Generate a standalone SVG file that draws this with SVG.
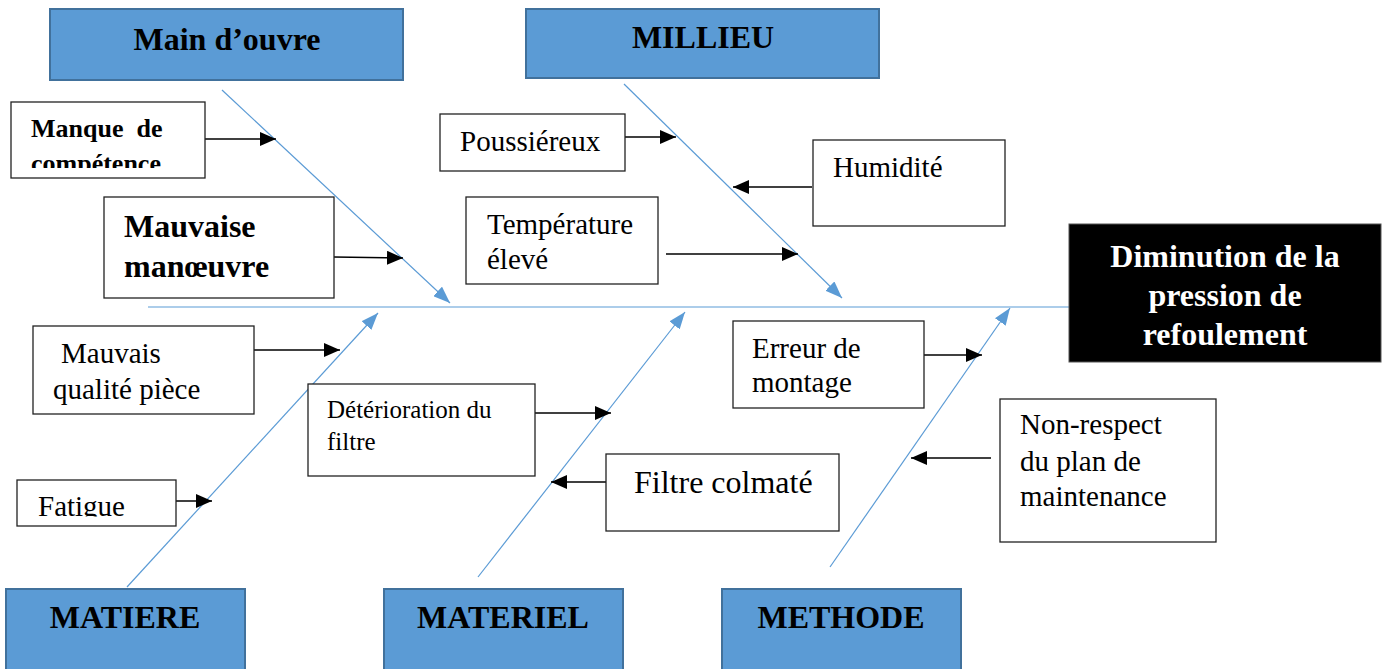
<svg xmlns="http://www.w3.org/2000/svg" width="1386" height="669" viewBox="0 0 1386 669" font-family="'Liberation Serif', 'Times New Roman', serif">
  <style>
    text { font-family: "Liberation Serif", "Times New Roman", serif; fill: #000; }
    .cat rect { fill: #5B9BD5; stroke: #41719C; stroke-width: 2; }
    .cat text { font-weight: bold; font-size: 32px; text-anchor: middle; }
    .cause rect { fill: #fff; stroke: #222; stroke-width: 1.3; }
    .cause text { font-size: 29px; }
    .cause text.b { font-weight: bold; }
    .cause text.s25 { font-size: 25px; }
    .cause text.s26 { font-size: 26px; }
    .cause text.s32 { font-size: 32px; }
    .effect rect { fill: #000; stroke: #555; stroke-width: 1; }
    .effect text { font-weight: bold; font-size: 32px; fill: #fff; text-anchor: middle; }
    .bone { stroke: #5B9BD5; stroke-width: 1.2; fill: none; }
    .link { stroke: #000; stroke-width: 1.3; fill: none; }
  </style>
  <defs>
    <marker id="blueHead" markerUnits="userSpaceOnUse" markerWidth="17" markerHeight="13" refX="17" refY="6.5" orient="auto">
      <path d="M0,0 L17,6.5 L0,13 z" fill="#5B9BD5"/>
    </marker>
    <marker id="blackHead" markerUnits="userSpaceOnUse" markerWidth="16" markerHeight="14" refX="16" refY="7" orient="auto">
      <path d="M0,0 L16,7 L0,14 z" fill="#000"/>
    </marker>
    <clipPath id="clipManque"><rect x="11" y="102" width="194" height="66"/></clipPath>
    <clipPath id="clipFatigue"><rect x="17" y="480" width="159" height="36.5"/></clipPath>
  </defs>

  <!-- fish bones and cause links -->
  <g id="connectors">
    <line class="bone" x1="148" y1="307" x2="1069" y2="307"/>
    <line class="bone" x1="222" y1="90" x2="450" y2="303" marker-end="url(#blueHead)"/>
    <line class="bone" x1="624" y1="84" x2="842" y2="298" marker-end="url(#blueHead)"/>
    <line class="bone" x1="127" y1="587" x2="378" y2="313" marker-end="url(#blueHead)"/>
    <line class="bone" x1="478" y1="577" x2="685" y2="312" marker-end="url(#blueHead)"/>
    <line class="bone" x1="830" y1="567" x2="1010" y2="308" marker-end="url(#blueHead)"/>

    <line class="link" x1="205" y1="139" x2="276" y2="139" marker-end="url(#blackHead)"/>
    <line class="link" x1="334" y1="257" x2="403" y2="258" marker-end="url(#blackHead)"/>
    <line class="link" x1="624" y1="137" x2="676" y2="137" marker-end="url(#blackHead)"/>
    <line class="link" x1="812" y1="187" x2="733" y2="187" marker-end="url(#blackHead)"/>
    <line class="link" x1="666" y1="254" x2="798" y2="254" marker-end="url(#blackHead)"/>
    <line class="link" x1="254" y1="350" x2="340" y2="350" marker-end="url(#blackHead)"/>
    <line class="link" x1="176" y1="501" x2="212" y2="501" marker-end="url(#blackHead)"/>
    <line class="link" x1="535" y1="413" x2="611" y2="413" marker-end="url(#blackHead)"/>
    <line class="link" x1="606" y1="482" x2="551" y2="482" marker-end="url(#blackHead)"/>
    <line class="link" x1="923" y1="355" x2="982" y2="355" marker-end="url(#blackHead)"/>
    <line class="link" x1="991" y1="458" x2="911" y2="458" marker-end="url(#blackHead)"/>
  </g>

  <!-- category headers -->
  <g id="main-oeuvre" class="cat">
    <rect x="50" y="9" width="353" height="71"/>
    <text x="227" y="50">Main d’ouvre</text>
  </g>
  <g id="milieu" class="cat">
    <rect x="526" y="9" width="353" height="69"/>
    <text x="703" y="48">MILLIEU</text>
  </g>
  <g id="matiere" class="cat">
    <rect x="6" y="589" width="239" height="100"/>
    <text x="125" y="628">MATIERE</text>
  </g>
  <g id="materiel" class="cat">
    <rect x="384" y="589" width="239" height="100"/>
    <text x="503" y="628">MATERIEL</text>
  </g>
  <g id="methode" class="cat">
    <rect x="722" y="589" width="239" height="100"/>
    <text x="841" y="628">METHODE</text>
  </g>

  <!-- effect -->
  <g id="effet" class="effect">
    <rect x="1069" y="224" width="312" height="138"/>
    <text x="1225" y="267">Diminution de la</text>
    <text x="1225" y="306">pression de</text>
    <text x="1225" y="345">refoulement</text>
  </g>

  <!-- causes -->
  <g id="manque-competence" class="cause">
    <rect x="11" y="102" width="194" height="76"/>
    <g clip-path="url(#clipManque)">
      <text class="b s26" x="31" y="137" xml:space="preserve">Manque  de</text>
      <text class="b s26" x="31" y="172">compétence</text>
    </g>
  </g>
  <g id="mauvaise-manoeuvre" class="cause">
    <rect x="104" y="197" width="230" height="101"/>
    <text class="b s32" x="124" y="237">Mauvaise</text>
    <text class="b s32" x="124" y="277">manœuvre</text>
  </g>
  <g id="poussiereux" class="cause">
    <rect x="440" y="114" width="185" height="57"/>
    <text x="460" y="151">Poussiéreux</text>
  </g>
  <g id="humidite" class="cause">
    <rect x="813" y="140" width="192" height="86"/>
    <text x="833" y="177">Humidité</text>
  </g>
  <g id="temperature" class="cause">
    <rect x="466" y="197" width="192" height="87"/>
    <text x="487" y="234">Température</text>
    <text x="487" y="269">élevé</text>
  </g>
  <g id="mauvaise-qualite" class="cause">
    <rect x="33" y="326" width="221" height="88"/>
    <text x="61" y="363">Mauvais</text>
    <text x="53" y="399">qualité pièce</text>
  </g>
  <g id="fatigue" class="cause">
    <rect x="17" y="480" width="159" height="46"/>
    <text x="38" y="516" clip-path="url(#clipFatigue)">Fatigue</text>
  </g>
  <g id="deterioration-filtre" class="cause">
    <rect x="308" y="384" width="227" height="92"/>
    <text class="s25" x="327" y="418">Détérioration du</text>
    <text class="s25" x="327" y="450">filtre</text>
  </g>
  <g id="filtre-colmate" class="cause">
    <rect x="606" y="454" width="233" height="77"/>
    <text class="s32" x="634" y="493">Filtre colmaté</text>
  </g>
  <g id="erreur-montage" class="cause">
    <rect x="733" y="321" width="191" height="87"/>
    <text x="752" y="358">Erreur de</text>
    <text x="752" y="392">montage</text>
  </g>
  <g id="non-respect" class="cause">
    <rect x="1000" y="399" width="216" height="143"/>
    <text x="1020" y="434">Non-respect</text>
    <text x="1020" y="471">du plan de</text>
    <text x="1020" y="506">maintenance</text>
  </g>
</svg>
